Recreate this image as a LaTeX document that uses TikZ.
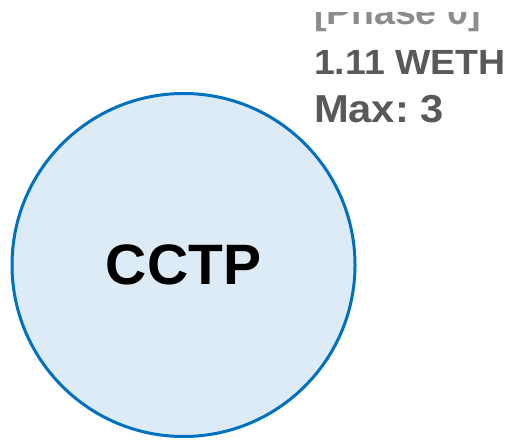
\documentclass[tikz,border=0pt]{standalone}
\usepackage{fontspec}
\setmainfont{Liberation Sans}
\newfontfamily\notefont[FakeStretch=1.07]{Liberation Sans}
\usetikzlibrary{positioning}

\definecolor{chainfill}{HTML}{DDEBF7}
\definecolor{chainline}{HTML}{0070C0}
\definecolor{notegray}{HTML}{595959}
\definecolor{phasegray}{HTML}{8C8C8C}

\begin{document}
\begin{tikzpicture}[
    x=1pt, y=1pt,
    every node/.style={inner sep=0pt, outer sep=0pt},
    chain/.style={circle, draw=chainline, fill=chainfill, line width=3pt, minimum size=343pt},
    chainname/.style={font=\fontsize{57}{60}\selectfont\bfseries, text=black, anchor=base},
    note/.style={font=\frenchspacing\notefont\fontsize{35}{40}\selectfont\bfseries, text=notegray, anchor=base west},
    phase/.style={note, text=phasegray}
]
\useasboundingbox (0,0) rectangle (513,439);
% protocollo e note a destra
\node[chain] (cctp) at (183.5,174) {};
\node[chainname] (cctplabel) at (183.5,154) {CCTP};

\begin{scope}
  \clip (300,300) rectangle (513,426);
  \node[phase] (phase) at (314,414) {[Phase 0]};
\end{scope}
\node[note] (amount) at (314,364) {1.11 WETH};
\node[note, font=\frenchspacing\notefont\fontsize{39}{44}\selectfont\bfseries] (max) at (314,316) {Max: 3};
\end{tikzpicture}
\end{document}
